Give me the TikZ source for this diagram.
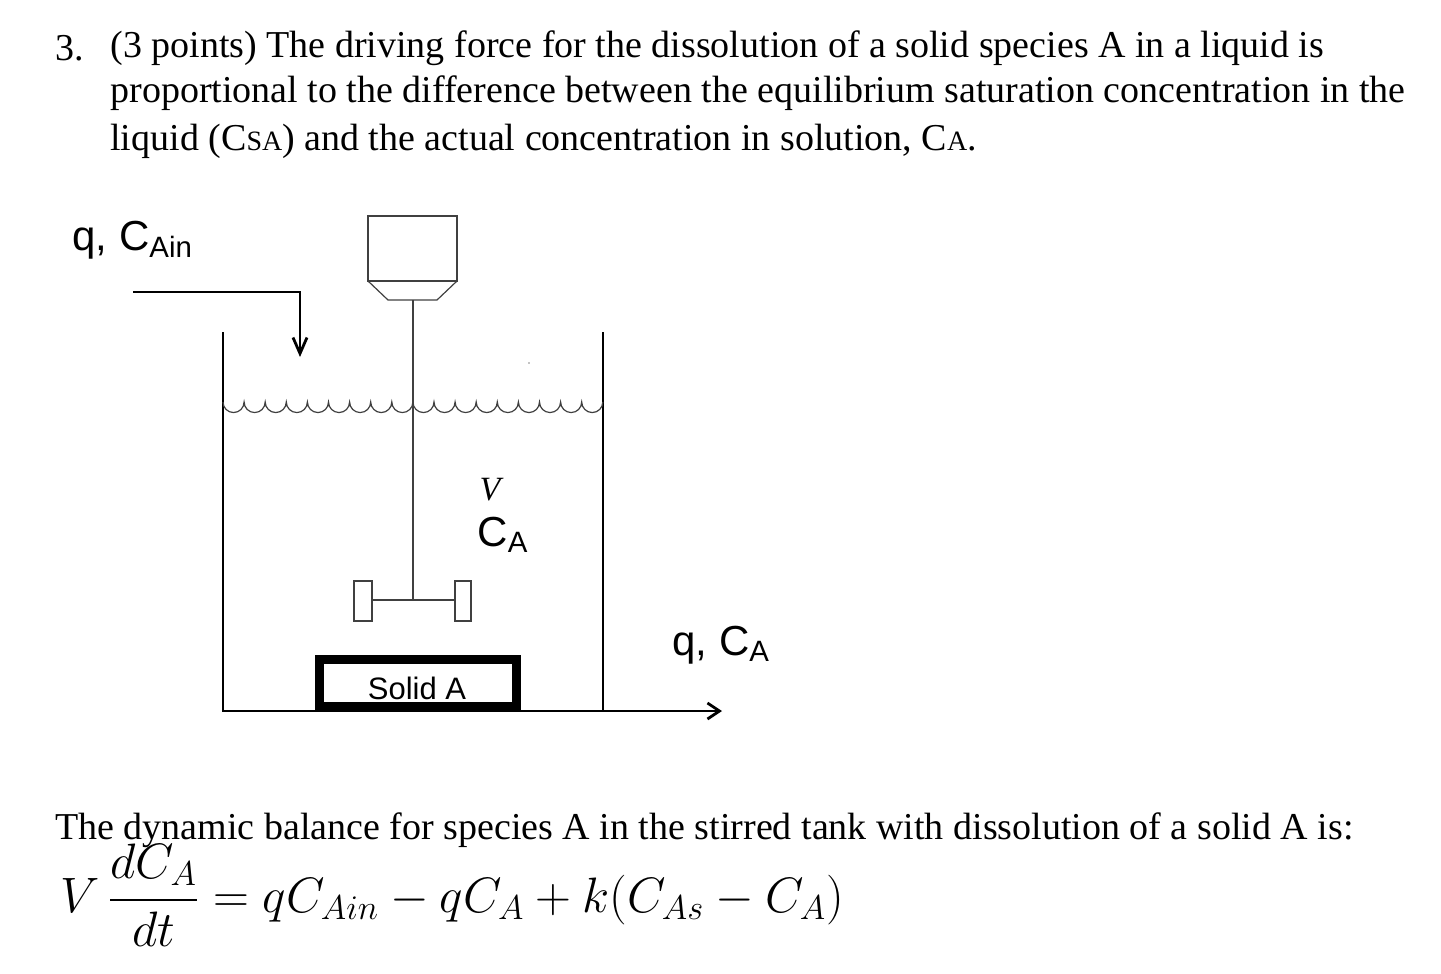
\documentclass[tikz,border=0pt]{standalone}
\usepackage{fontspec}
\usepackage{amsmath}
\usetikzlibrary{arrows.meta}
\setmainfont{Liberation Serif}
\setsansfont{Liberation Sans}
\begin{document}
\begin{tikzpicture}[x=0.5pt,y=-0.5pt,
  txt/.style={anchor=west,inner sep=0pt,font=\fontsize{19}{22}\selectfont},
  lbl/.style={inner sep=0pt,font=\sffamily\fontsize{15.5}{18}\selectfont},
  big/.style={inner sep=0pt,font=\sffamily\fontsize{21}{24}\selectfont},
  wall/.style={line width=1.4pt},
  thin/.style={line width=0.6pt,draw=black!75}]
\useasboundingbox (0,0) rectangle (1441,974);
% text
\node[txt] (n3) at (55,48) {3.};
\node[txt] (l1) at (110,48) {(3 points) The driving force for the dissolution of a solid species A in a liquid is};
\node[txt] (l2) at (110,93) {proportional to the difference between the equilibrium saturation concentration in the};
\node[txt] (l3) at (110,141) {liquid (C{\fontsize{14}{16}\selectfont SA}) and the actual concentration in solution, C{\fontsize{14}{16}\selectfont A}.};
% motor
\draw[thin] (368,216) rectangle (457,281);
\draw[thin] (368,281) -- (388,300) -- (437,300) -- (457,281);
\draw[thin] (413,300) -- (413,600);
\draw[thin] (372,600) -- (455,600);
\draw[thin] (354,581) rectangle (372,621);
\draw[thin] (455,581) rectangle (471,621);
% tank
\coordinate (tl) at (223,332);
\coordinate (bl) at (223,711);
\coordinate (tr) at (603,332);
\coordinate (br) at (603,711);
\coordinate (out) at (722,711);
\draw[wall] (tl) -- (bl) -- (br);
\draw[wall] (tr) -- (br);
\draw[wall,-{Straight Barb[length=6pt,width=8pt]}] (br) -- (out);
% inlet
\coordinate (in0) at (133,292);
\coordinate (in1) at (300,292);
\coordinate (in2) at (300,357);
\draw[wall,-{Straight Barb[length=8pt,width=7pt]}] (in0) -- (in1) -- (in2);
% liquid surface
\draw[thin] (223,402) foreach \i in {0,...,17} { arc[start angle=180,end angle=0,radius=10.55] };
\fill (529,363) circle (0.6);
% solid A
\draw[line width=4.5pt] (319.5,659.5) rectangle (516.5,706.5);
\node[lbl,fill=white,inner xsep=2pt,inner ysep=1pt] (sa) at (417,688) {Solid A};
% labels
\node[inner sep=0pt,font=\itshape\fontsize{17}{20}\selectfont] (v) at (490,490) {V};
\node[big] (ca) at (503,535) {C\textsubscript{A}};
\node[big,anchor=west] (qin) at (72,240) {q, C\textsubscript{Ain}};
\node[big,anchor=west] (qout) at (672,645) {q, C\textsubscript{A}};
% bottom
\node[txt] (b1) at (55,830) {The dynamic balance for species A in the stirred tank with dissolution of a solid A is:};
\node[anchor=west,inner sep=0pt,font=\fontsize{25}{28}\selectfont] (eq) at (60,895)
 {$V\,\dfrac{dC_A}{dt} = qC_{Ain} - qC_A + k(C_{As} - C_A)$};
\end{tikzpicture}
\end{document}
